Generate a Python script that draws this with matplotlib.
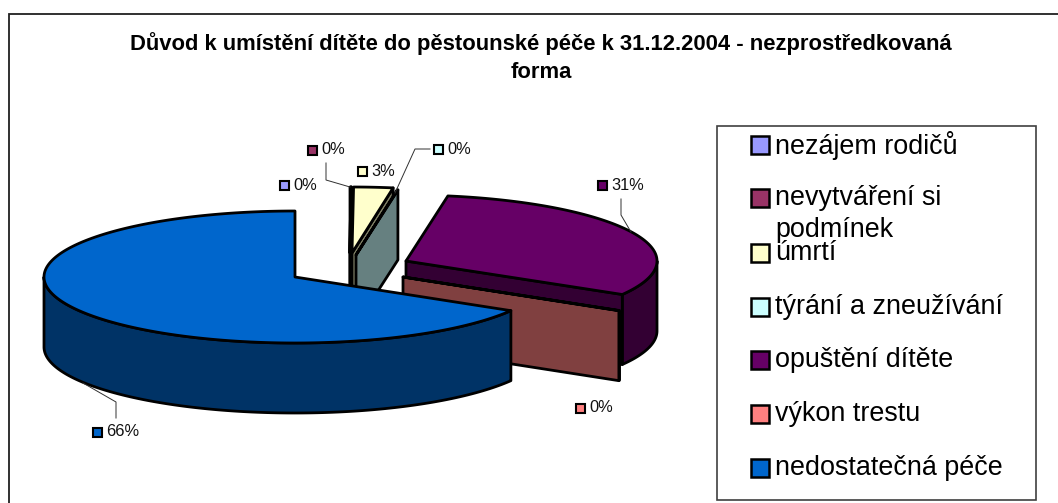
import numpy as np
import matplotlib
matplotlib.use('Agg')
import matplotlib.pyplot as plt
from matplotlib.patches import Polygon, Rectangle

plt.rcParams['font.family'] = ['Liberation Sans', 'DejaVu Sans']

title = 'Důvod k umístění dítěte do pěstounské péče k 31.12.2004 - nezprostředkovaná\nforma'
categories = ['nezájem rodičů', 'nevytváření si\npodmínek', 'úmrtí', 'týrání a zneužívání',
              'opuštění dítěte', 'výkon trestu', 'nedostatečná péče']
# small slices print as 0% but still have a sliver of width
values = [0.05, 0.05, 2.52, 0.05, 30.8, 0.05, 66.48]
colors = ['#9999FF', '#993366', '#FFFFCC', '#CCFFFF', '#660066', '#FF8080', '#0066CC']
wall_colors = ['#4D4D80', '#4D1A33', '#808066', '#668080', '#330033', '#804040', '#003366']

# pie shape in pixels, every slice has its own exploded centre
rx, ry, depth = 251, 66, 70
start_angle = 0
centers = [(350, 253), (350, 253), (352, 253), (356, 255), (406, 261), (403, 277), (295, 277)]

# data labels: swatch centre, then leader line if any
label_pos = [(284, 185), (312, 150), (362, 171), (438, 149), (602, 185), (580, 408), (97, 432)]
leaders = [None,
           [(326, 163), (326, 180), (350, 187)],
           None,
           [(430, 149), (415, 149), (395, 193)],
           [(621, 199), (621, 215), (631, 232)],
           None,
           [(116, 418), (116, 402), (83, 383)]]

legend_y = [145, 198, 253, 307, 360, 414, 468]


def rim(cx, cy, a0, a1, drop=0):
    t = np.radians(np.linspace(a0, a1, max(int(abs(a1 - a0)) * 2, 2)))
    return np.column_stack([cx + rx * np.sin(t), cy - ry * np.cos(t) + drop])


def draw_slice(ax, cx, cy, a0, a1, face, wall):
    edge = dict(edgecolor='black', linewidth=2.0, joinstyle='round')
    # outer wall, only the front half of the rim shows
    f0, f1 = max(a0, 90), min(a1, 270)
    if f1 > f0:
        pts = np.vstack([rim(cx, cy, f0, f1), rim(cx, cy, f0, f1, depth)[::-1]])
        ax.add_patch(Polygon(pts, facecolor=wall, **edge))
    # cut wall on the clockwise end
    if 0 < a1 < 180:
        p = rim(cx, cy, a1, a1)[0]
        pts = [(cx, cy), p, (p[0], p[1] + depth), (cx, cy + depth)]
        ax.add_patch(Polygon(pts, facecolor=wall, **edge))
    pts = np.vstack([[(cx, cy)], rim(cx, cy, a0, a1)])
    ax.add_patch(Polygon(pts, facecolor=face, **edge))


fig = plt.figure(figsize=(10.58, 5.03), dpi=100)
ax = fig.add_axes([0, 0, 1, 1])
ax.set_xlim(0, 1058)
ax.set_ylim(503, 0)
ax.axis('off')

# chart frame runs off the picture on the right and bottom
ax.plot([8.5, 8.5, 1058], [503, 14, 14], color='#202020', lw=1.3, solid_joinstyle='miter')

ax.text(541, 57.5, title, ha='center', va='center', fontsize=15.8, fontweight='bold',
        linespacing=1.48, color='black')

angle = start_angle
for i in range(len(values)):
    sweep = values[i] * 3.6
    draw_slice(ax, centers[i][0], centers[i][1], angle, angle + sweep, colors[i], wall_colors[i])
    angle += sweep

for i in range(len(values)):
    x, y = label_pos[i]
    ax.add_patch(Rectangle((x - 4.5, y - 4.5), 9, 9, facecolor=colors[i], edgecolor='black', lw=1.5))
    ax.text(x + 9, y, '{:.0f}%'.format(values[i]), ha='left', va='center', fontsize=11.8,
            color='#111111')
    if leaders[i] is not None:
        xs, ys = zip(*leaders[i])
        ax.plot(xs, ys, color='#303030', lw=0.7)

# legend is laid out by hand, the wrapped entry overlaps the next one as in the original
ax.add_patch(Rectangle((717, 126), 319, 374, facecolor='white', edgecolor='#404040', lw=1.2))
for i in range(len(categories)):
    y = legend_y[i]
    ax.add_patch(Rectangle((751, y - 9), 18, 18, facecolor=colors[i], edgecolor='black', lw=1.8))
    lines = categories[i].split('\n')
    for k in range(len(lines)):
        ax.text(775, y + k * 32, lines[k], ha='left', va='center', fontsize=19.4, color='black')

fig.savefig('out.png', dpi=100)
plt.close()
